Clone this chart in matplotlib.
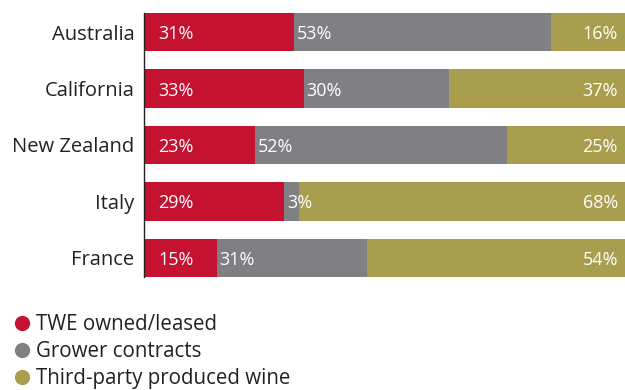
import matplotlib
matplotlib.use("Agg")
import matplotlib.pyplot as plt
from matplotlib.lines import Line2D
import numpy as np

regions = ["Australia", "California", "New Zealand", "Italy", "France"]
twe_owned = [31, 33, 23, 29, 15]
grower = [53, 30, 52, 3, 31]
third_party = [16, 37, 25, 68, 54]
series_names = ["TWE owned/leased", "Grower contracts", "Third-party produced wine"]
colors = ["#C41230", "#807F84", "#A99E4D"]

plt.rcParams['font.family'] = ['Open Sans', 'DejaVu Sans']

fig = plt.figure(figsize=(6.25, 3.9), dpi=100)
ax = fig.add_axes([144/625, 1-277/390, 484/625, 264/390])

y = np.arange(len(regions))
h = 0.68
left = np.zeros(len(regions))
for vals, c in zip([twe_owned, grower, third_party], colors):
    ax.barh(y, vals, left=left, height=h, color=c, linewidth=0)
    left = left + np.array(vals)

fs = 13
for i in range(len(regions)):
    ax.text(10.2, y[i], f"{twe_owned[i]}%", ha='right', va='center_baseline', color='white', fontsize=fs)
    ax.text(twe_owned[i] + 0.6, y[i], f"{grower[i]}%", ha='left', va='center_baseline', color='white', fontsize=fs)
    ax.text(97.9, y[i], f"{third_party[i]}%", ha='right', va='center_baseline', color='white', fontsize=fs)

ax.set_xlim(0, 100)
ax.set_ylim(len(regions) - 1 + h/2, -h/2)
ax.set_yticks(y)
ax.set_yticklabels(regions, fontsize=14.5, color='#222222', va='center_baseline')
ax.tick_params(axis='y', length=0, pad=7)
ax.set_xticks([])
for s in ['top', 'right', 'bottom']:
    ax.spines[s].set_visible(False)
ax.spines['left'].set_color('#222222')
ax.spines['left'].set_linewidth(1)

handles = [Line2D([], [], marker='o', linestyle='none', markersize=11, markerfacecolor=c,
                  markeredgewidth=0) for c in colors]
fig.legend(handles, series_names, loc='upper left', bbox_to_anchor=(0.005, 1-306/390),
           frameon=False, fontsize=14.8, handletextpad=0.2, labelspacing=0.28,
           borderaxespad=0, handlelength=1.0, labelcolor='#222222')

fig.savefig("out.png", dpi=100)
